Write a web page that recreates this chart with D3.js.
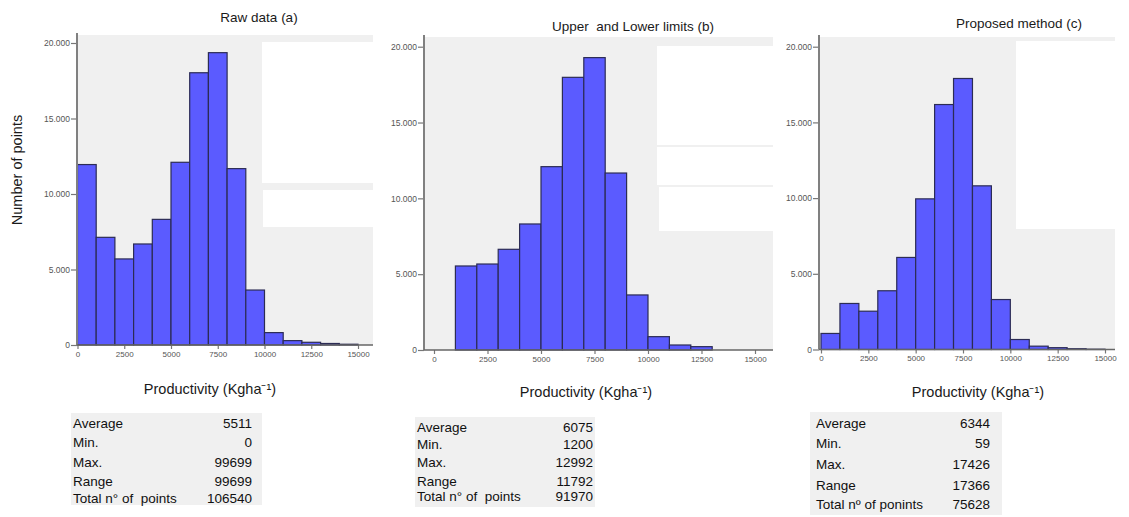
<!DOCTYPE html>
<html>
<head>
<meta charset="utf-8">
<script src="https://cdn.jsdelivr.net/npm/d3@7"></script>
<style>
  html, body { margin: 0; padding: 0; background: #ffffff; }
  svg { display: block; }
</style>
</head>
<body>
<svg id="chart" width="1129" height="517"></svg>
<script>
// ---------------- DATA ----------------
const binStarts = [0, 1000, 2000, 3000, 4000, 5000, 6000, 7000, 8000, 9000, 10000, 11000, 12000, 13000, 14000];
const binWidth = 1000;
const rawCounts      = [11950, 7130, 5700, 6690, 8320, 12100, 18030, 19360, 11680, 3640, 820, 290, 180, 100, 50];
const limitsCounts   = [0, 5540, 5670, 6640, 8310, 12090, 17980, 19280, 11670, 3630, 880, 330, 220, 0, 0];
const proposedCounts = [1060, 3040, 2530, 3880, 6080, 9950, 16180, 17900, 10810, 3300, 660, 220, 120, 50, 20];

const yTickValues = [0, 5000, 10000, 15000, 20000];
const yTickLabels = ["0", "5.000", "10.000", "15.000", "20.000"];
const xTickValues = [0, 2500, 5000, 7500, 10000, 12500, 15000];
const xTickLabels = ["0", "2500", "5000", "7500", "10000", "12500", "15000"];

const panelTitles = ["Raw data (a)", "Upper  and Lower limits (b)", "Proposed method (c)"];
const xAxisTitle = "Productivity (Kgha\u207B\u00B9)";
const yAxisTitle = "Number of points";

const statLabelsA = ["Average", "Min.", "Max.", "Range", "Total n\u00B0 of  points"];
const statLabelsB = ["Average", "Min.", "Max.", "Range", "Total n\u00B0 of  points"];
const statLabelsC = ["Average", "Min.", "Max.", "Range", "Total n\u00BA of ponints"];
const statValuesA = ["5511", "0", "99699", "99699", "106540"];
const statValuesB = ["6075", "1200", "12992", "11792", "91970"];
const statValuesC = ["6344", "59", "17426", "17366", "75628"];

// ---------------- LAYOUT ----------------
const panels = [
  { counts: rawCounts, title: panelTitles[0], titleX: 259, titleY: 22,
    axisX: 77, x0: 77.5, x1: 358, y0: 345, y1: 43, bgTop: 35, bgRight: 373,
    patches: [[262, 42, 376, 183], [263, 190, 376, 227]],
    labelX: 210, labelY: 394,
    stats: { labels: statLabelsA, values: statValuesA, x: 71, y: 413, w: 191, h: 92, lx: 73, vx: 252, rows: [428, 447, 467, 486, 503] } },
  { counts: limitsCounts, title: panelTitles[1], titleX: 633, titleY: 31,
    axisX: 424, x0: 434, x1: 755, y0: 350, y1: 46.7, bgTop: 37, bgRight: 773,
    patches: [[657, 46, 773, 145], [657, 147, 773, 185], [659, 187, 773, 231]],
    labelX: 586, labelY: 397,
    stats: { labels: statLabelsB, values: statValuesB, x: 415, y: 417, w: 180, h: 90, lx: 417, vx: 593, rows: [432, 449, 467, 486, 501] } },
  { counts: proposedCounts, title: panelTitles[2], titleX: 1019, titleY: 28,
    axisX: 819, x0: 821, x1: 1105, y0: 349.5, y1: 46.7, bgTop: 37, bgRight: 1115,
    patches: [[1016, 41, 1129, 229]],
    labelX: 978, labelY: 397,
    stats: { labels: statLabelsC, values: statValuesC, x: 810, y: 412, w: 192, h: 103, lx: 816, vx: 990, rows: [428, 448, 469, 490, 509] } }
];

const svg = d3.select("#chart");
const FONT = "'Liberation Sans', Arial, sans-serif";
const BAR_FILL = "#5b5bff";
const BAR_STROKE = "#2c2c55";
const BG = "#f0f0f0";

panels.forEach(p => {
  const x = d3.scaleLinear().domain([0, 15000]).range([p.x0, p.x1]);
  const y = d3.scaleLinear().domain([0, 20000]).range([p.y0, p.y1]);
  const g = svg.append("g");

  // plot background
  g.append("rect").attr("x", p.axisX).attr("y", p.bgTop)
    .attr("width", p.bgRight - p.axisX).attr("height", p.y0 - p.bgTop)
    .attr("fill", BG);
  // white patches in the background (as in source picture)
  p.patches.forEach(r => {
    g.append("rect").attr("x", r[0]).attr("y", r[1])
      .attr("width", r[2] - r[0]).attr("height", r[3] - r[1])
      .attr("fill", "#ffffff");
  });

  // bars
  const data = binStarts.map((s, i) => ({ s, v: p.counts[i] })).filter(d => d.v > 0);
  g.selectAll("rect.bar").data(data).enter().append("rect")
    .attr("class", "bar")
    .attr("x", d => x(d.s))
    .attr("width", d => x(d.s + binWidth) - x(d.s))
    .attr("y", d => y(d.v))
    .attr("height", d => y(0) - y(d.v))
    .attr("fill", BAR_FILL)
    .attr("stroke", BAR_STROKE)
    .attr("stroke-width", 1.2);

  // y axis
  const yAxis = d3.axisLeft(y).tickValues(yTickValues)
    .tickFormat((d, i) => yTickLabels[i]).tickSize(6).tickPadding(1);
  const ya = g.append("g").attr("transform", `translate(${p.axisX},0)`).call(yAxis);
  ya.select(".domain").remove();
  ya.selectAll(".tick line").attr("stroke", "#777").attr("stroke-width", 1.2);
  ya.selectAll(".tick text").attr("fill", "#555").style("font-family", FONT).style("font-size", "8.5px");
  g.append("line").attr("x1", p.axisX).attr("x2", p.axisX)
    .attr("y1", p.bgTop - 2).attr("y2", p.y0)
    .attr("stroke", "#808080").attr("stroke-width", 2);

  // x axis
  const xAxis = d3.axisBottom(x).tickValues(xTickValues)
    .tickFormat((d, i) => xTickLabels[i]).tickSize(4).tickPadding(2);
  const xa = g.append("g").attr("transform", `translate(0,${p.y0})`).call(xAxis);
  xa.select(".domain").remove();
  xa.selectAll(".tick line").attr("stroke", "#777").attr("stroke-width", 1.2);
  xa.selectAll(".tick text").attr("fill", "#555").style("font-family", FONT).style("font-size", "8px");
  g.append("line").attr("x1", p.axisX).attr("x2", p.bgRight)
    .attr("y1", p.y0).attr("y2", p.y0)
    .attr("stroke", "#666").attr("stroke-width", 1.5);

  // titles
  g.append("text").attr("x", p.titleX).attr("y", p.titleY)
    .attr("text-anchor", "middle").attr("fill", "#1a1a1a")
    .style("font-family", FONT).style("font-size", "13.5px")
    .style("white-space", "pre").attr("xml:space", "preserve")
    .text(p.title);
  g.append("text").attr("x", p.labelX).attr("y", p.labelY)
    .attr("text-anchor", "middle").attr("fill", "#1a1a1a")
    .style("font-family", FONT).style("font-size", "14.5px")
    .text(xAxisTitle);

  // stats table
  const st = p.stats;
  g.append("rect").attr("x", st.x).attr("y", st.y).attr("width", st.w).attr("height", st.h)
    .attr("fill", "#f0f0f0");
  st.labels.forEach((lab, i) => {
    g.append("text").attr("x", st.lx).attr("y", st.rows[i])
      .attr("fill", "#111").style("font-family", FONT).style("font-size", "13.5px")
      .style("white-space", "pre").attr("xml:space", "preserve")
      .text(lab);
    g.append("text").attr("x", st.vx).attr("y", st.rows[i])
      .attr("text-anchor", "end")
      .attr("fill", "#111").style("font-family", FONT).style("font-size", "13.5px")
      .text(st.values[i]);
  });
});

// shared y axis title
svg.append("text")
  .attr("transform", "translate(22,170) rotate(-90)")
  .attr("text-anchor", "middle").attr("fill", "#1a1a1a")
  .style("font-family", FONT).style("font-size", "14.5px")
  .text(yAxisTitle);
</script>
</body>
</html>
